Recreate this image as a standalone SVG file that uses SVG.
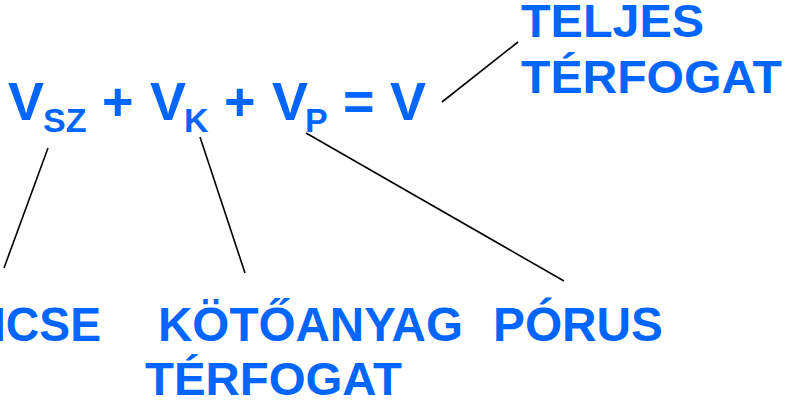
<svg xmlns="http://www.w3.org/2000/svg" width="789" height="404" viewBox="0 0 789 404">
<style>
text{font-family:"Liberation Sans",Arial,sans-serif;font-weight:bold;fill:#0066ff}
.m{font-size:54px}.s{font-size:34px}.l{font-size:48px}.b{font-size:47px}.t{font-size:47px}
line{stroke:#000;stroke-width:1.6}
</style>
<rect width="789" height="404" fill="#fff"/>
<g id="formula">
<text class="m" x="8" y="120">V</text><text class="s" x="43" y="132">SZ</text>
<text class="m" x="102" y="120">+</text>
<text class="m" x="150" y="120">V</text><text class="s" x="184" y="132">K</text>
<text class="m" x="224" y="120">+</text>
<text class="m" x="272" y="120">V</text><text class="s" x="305" y="132">P</text>
<text class="m" x="343" y="120">=</text>
<text class="m" x="390" y="120">V</text>
</g>
<g id="teljes">
<text class="t" x="521" y="37" textLength="183" lengthAdjust="spacingAndGlyphs">TELJES</text>
<text class="t" x="521" y="93" textLength="261" lengthAdjust="spacingAndGlyphs">TÉRFOGAT</text>
</g>
<g id="szemcse"><text class="l" x="101" y="341" text-anchor="end" textLength="108" lengthAdjust="spacingAndGlyphs">ICSE</text></g>
<g id="kotoanyag">
<text class="l" x="158" y="341" textLength="305" lengthAdjust="spacingAndGlyphs">KÖTŐANYAG</text>
<text class="b" x="145" y="395" textLength="257" lengthAdjust="spacingAndGlyphs">TÉRFOGAT</text>
</g>
<g id="porus"><text class="l" x="493" y="341" textLength="170" lengthAdjust="spacingAndGlyphs">PÓRUS</text></g>
<g id="connectors">
<line x1="442" y1="102" x2="518" y2="42"/>
<line x1="48" y1="148" x2="4" y2="268"/>
<line x1="200" y1="137" x2="245" y2="273"/>
<line x1="306" y1="133" x2="564" y2="281"/>
</g>
</svg>
